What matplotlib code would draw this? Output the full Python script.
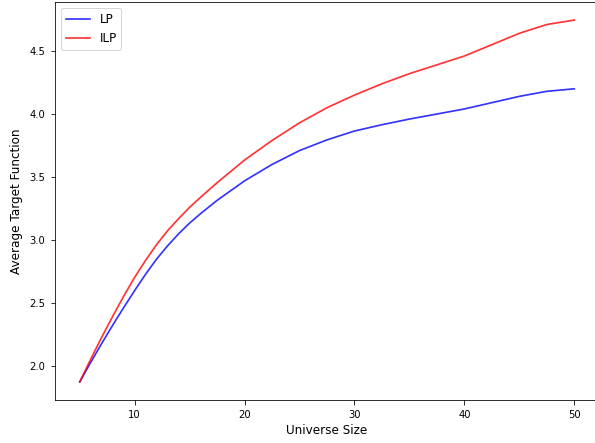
import matplotlib
matplotlib.use("Agg")
import matplotlib.pyplot as plt

# Universe size and average target function values
universe_size = [5, 6, 7, 8, 9, 10, 11, 12, 13, 14, 15, 16, 17.5, 20, 22.5, 25,
                 27.5, 30, 32.5, 35, 37.5, 40, 42.5, 45, 47.5, 50]
lp_values = [1.875, 2.03, 2.18, 2.325, 2.465, 2.60, 2.73, 2.85, 2.955, 3.05, 3.135,
             3.21, 3.315, 3.47, 3.60, 3.71, 3.795, 3.865, 3.915, 3.96, 4.00, 4.04,
             4.09, 4.14, 4.18, 4.20]
ilp_values = [1.875, 2.055, 2.23, 2.395, 2.555, 2.705, 2.84, 2.965, 3.075, 3.17, 3.26,
              3.34, 3.455, 3.635, 3.79, 3.93, 4.05, 4.15, 4.24, 4.32, 4.39, 4.46,
              4.55, 4.64, 4.71, 4.745]

fig = plt.figure(figsize=(595 / 72, 443 / 72), dpi=72)
ax = fig.add_axes([55 / 595, 43 / 443, 544 / 595, 398 / 443])

ax.plot(universe_size, lp_values, color='b', alpha=0.8, linewidth=1.7, label='LP')
ax.plot(universe_size, ilp_values, color='r', alpha=0.8, linewidth=1.7, label='ILP')

ax.tick_params(length=4.5, pad=5)
ax.set_xlabel('Universe Size', fontsize=12)
ax.set_ylabel('Average Target Function', fontsize=12, labelpad=6)
ax.legend(loc='upper left', fontsize=12)

fig.savefig('out.png', dpi=72)
